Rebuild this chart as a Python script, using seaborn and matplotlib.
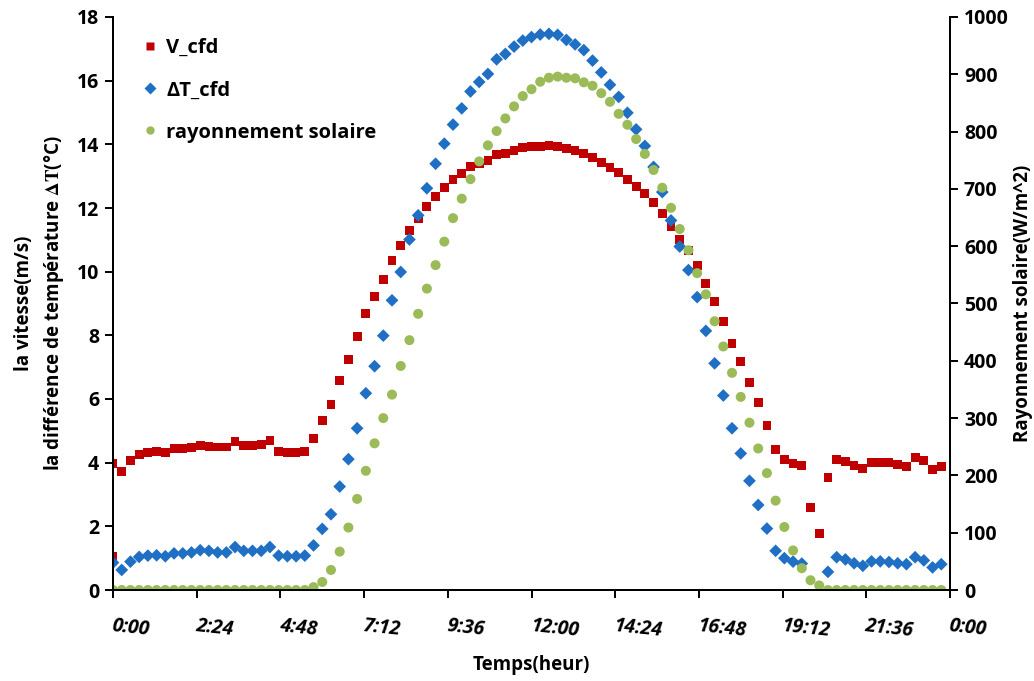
import numpy as np
import pandas as pd
import matplotlib
matplotlib.use("Agg")
import matplotlib.pyplot as plt
import seaborn as sns
from matplotlib.lines import Line2D

# ---- data: one sample every 15 minutes over a day ----
sample_step_h = 0.25
v_cfd = [3.98, 3.72, 4.07, 4.25, 4.33, 4.36, 4.33, 4.45, 4.45, 4.48,
         4.53, 4.51, 4.49, 4.49, 4.67, 4.55, 4.55, 4.58, 4.70, 4.36,
         4.33, 4.33, 4.36, 4.77, 5.33, 5.83, 6.59, 7.25, 7.97, 8.69,
         9.23, 9.76, 10.36, 10.83, 11.30, 11.68, 12.05, 12.37, 12.65, 12.90,
         13.09, 13.31, 13.41, 13.50, 13.69, 13.72, 13.81, 13.90, 13.94, 13.94,
         13.97, 13.94, 13.88, 13.81, 13.72, 13.59, 13.44, 13.28, 13.12, 12.90,
         12.68, 12.46, 12.18, 11.83, 11.40, 11.02, 10.67, 10.20, 9.64, 9.07,
         8.44, 7.75, 7.18, 6.53, 5.90, 5.17, 4.42, 4.11, 3.98, 3.92,
         2.60, 1.78, 3.54, 4.11, 4.04, 3.92, 3.82, 4.01, 4.01, 4.01,
         3.95, 3.89, 4.17, 4.07, 3.79, 3.89]
# additional V_cfd sample recorded at midnight
v_cfd_extra_time = [0.0]
v_cfd_extra = [1.05]

dt_cfd = [0.86, 0.63, 0.89, 1.04, 1.08, 1.09, 1.06, 1.15, 1.15, 1.18,
          1.25, 1.23, 1.18, 1.18, 1.35, 1.23, 1.23, 1.23, 1.35, 1.08,
          1.06, 1.06, 1.08, 1.40, 1.92, 2.38, 3.25, 4.11, 5.08, 6.18,
          7.03, 7.99, 9.10, 9.99, 11.01, 11.77, 12.62, 13.39, 14.02, 14.62,
          15.13, 15.66, 15.96, 16.21, 16.67, 16.84, 17.07, 17.26, 17.37, 17.45,
          17.47, 17.44, 17.28, 17.14, 16.96, 16.63, 16.26, 15.87, 15.49, 14.99,
          14.47, 13.95, 13.29, 12.50, 11.61, 10.79, 10.05, 9.20, 8.14, 7.12,
          6.11, 5.08, 4.29, 3.43, 2.67, 1.93, 1.23, 1.00, 0.89, 0.83,
          None, None, 0.57, 1.03, 0.96, 0.84, 0.76, 0.90, 0.90, 0.88,
          0.84, 0.81, 1.03, 0.93, 0.71, 0.81]

rayonnement = [0, 0, 0, 0, 0, 0, 0, 0, 0, 0,
               0, 0, 0, 0, 0, 0, 0, 0, 0, 0,
               0, 0, 0, 5, 14, 35, 67, 109, 159, 208,
               256, 300, 341, 391, 436, 482, 526, 567, 608, 649,
               683, 717, 748, 776, 801, 823, 844, 862, 874, 887,
               894, 896, 894, 893, 886, 880, 867, 852, 831, 812,
               787, 761, 733, 702, 667, 630, 593, 553, 516, 469,
               425, 379, 337, 292, 247, 204, 156, 110, 69, 38,
               17, 8, 0, 0, 0, 0, 0, 0, 0, 0,
               0, 0, 0, 0, 0, 0]

tick_hours = [0, 2.4, 4.8, 7.2, 9.6, 12.0, 14.4, 16.8, 19.2, 21.6, 24.0]
tick_labels = ["0:00", "2:24", "4:48", "7:12", "9:36", "12:00",
               "14:24", "16:48", "19:12", "21:36", "0:00"]

series_names = ["V_cfd", "\u0394T_cfd", "rayonnement solaire"]
series_colors = ["#C00000", "#1F6FC4", "#9BBB59"]

hours = [i * sample_step_h for i in range(len(v_cfd))]
df_v = pd.DataFrame({"t": v_cfd_extra_time + hours, "val": v_cfd_extra + v_cfd})
df_dt = pd.DataFrame({"t": hours, "val": [np.nan if v is None else v for v in dt_cfd]}).dropna()
df_ray = pd.DataFrame({"t": hours, "val": rayonnement})

# ---- styling ----
FONT = ["Open Sans", "DejaVu Sans"]
sns.set_theme(style="ticks")
plt.rcParams["font.family"] = FONT
plt.rcParams["font.weight"] = "bold"
plt.rcParams["mathtext.fontset"] = "stix"
plt.rcParams["text.color"] = "black"
plt.rcParams["axes.labelcolor"] = "black"

fig = plt.figure(figsize=(10.34, 6.81), dpi=100)
ax = fig.add_axes([113 / 1034, 1 - 590 / 681, (950 - 113) / 1034, (590 - 17) / 681])
ax2 = ax.twinx()

sns.scatterplot(data=df_v, x="t", y="val", ax=ax, marker="s", s=40,
                color=series_colors[0], edgecolor="none", linewidth=0, legend=False)
sns.scatterplot(data=df_dt, x="t", y="val", ax=ax, marker="D", s=42,
                color=series_colors[1], edgecolor="none", linewidth=0, legend=False)
sns.scatterplot(data=df_ray, x="t", y="val", ax=ax2, marker="o", s=52,
                color=series_colors[2], edgecolor="none", linewidth=0, legend=False)

ax.set_xlim(0, 24)
ax.set_ylim(0, 18)
ax2.set_ylim(0, 1000)
ax.set_yticks(np.arange(0, 19, 2))
ax2.set_yticks(np.arange(0, 1001, 100))
ax.set_xticks(tick_hours)
ax.set_xticklabels(tick_labels, rotation=-6, ha="left", va="top",
                   rotation_mode="anchor", fontstyle="italic",
                   fontweight="bold", fontsize=14.5, color="black")

for a in (ax, ax2):
    a.spines["top"].set_visible(False)
    for s in ("left", "right", "bottom"):
        a.spines[s].set_color("black")
        a.spines[s].set_linewidth(1.4)
    a.tick_params(colors="black", labelsize=14, width=1.4, length=6,
                  direction="out")
ax.tick_params(axis="x", pad=13)
ax.tick_params(axis="y", pad=4)
ax2.tick_params(axis="y", pad=4)
for lab in ax.get_yticklabels() + ax2.get_yticklabels():
    lab.set_fontweight("bold")

ax.set_xlabel("Temps(heur)", fontsize=13.5, fontweight="bold", labelpad=10,
              color="black")
ax.set_ylabel("la vitesse(m/s)\nla diff\u00e9rence de temp\u00e9rature $\\mathbf{\\Delta T}$(\u00b0C)",
              fontsize=13.5, fontweight="bold", labelpad=8, linespacing=1.45,
              color="black")
ax2.set_ylabel("Rayonnement solaire(W/m^2)", fontsize=13.5, fontweight="bold",
               labelpad=3, color="black")

markers = ["s", "D", "o"]
msizes = [6, 6, 6]
handles = [Line2D([], [], linestyle="none", marker=m, markersize=ms,
                  markerfacecolor=c, markeredgecolor="none", label=n)
           for m, ms, c, n in zip(markers, msizes, series_colors, series_names)]
leg = ax2.legend(handles=handles, loc="upper left", bbox_to_anchor=(0.025, 0.977),
                 frameon=False, handlelength=0.8, handletextpad=0.4,
                 labelspacing=1.1, borderaxespad=0, labelcolor="black",
                 prop={"family": FONT, "weight": "bold", "size": 14.5})

fig.savefig("out.png", dpi=100)
